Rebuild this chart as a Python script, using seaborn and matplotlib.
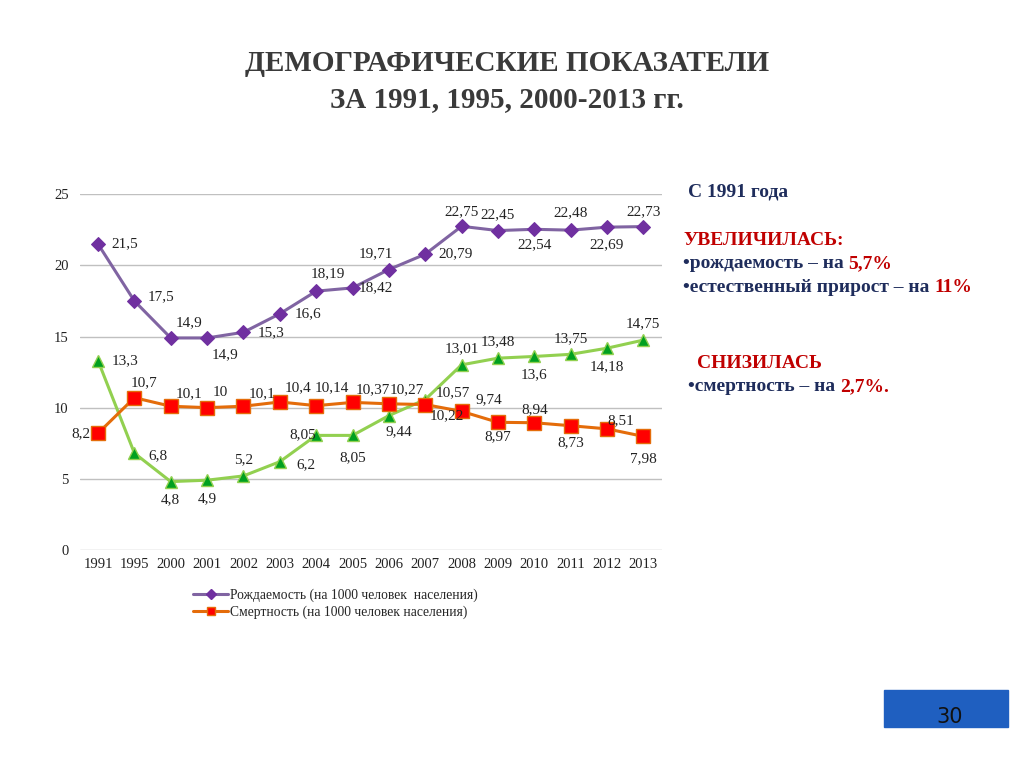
import matplotlib
matplotlib.use("Agg")
import matplotlib.pyplot as plt
import seaborn as sns
from matplotlib.lines import Line2D
from matplotlib.patches import Rectangle

# ── Data ──────────────────────────────────────────────────────────────────────
years = ["1991", "1995", "2000", "2001", "2002", "2003", "2004", "2005",
         "2006", "2007", "2008", "2009", "2010", "2011", "2012", "2013"]
birth = [21.5, 17.5, 14.9, 14.9, 15.3, 16.6, 18.19, 18.42,
         19.71, 20.79, 22.75, 22.45, 22.54, 22.48, 22.69, 22.73]
death = [8.2, 10.7, 10.1, 10.0, 10.1, 10.4, 10.14, 10.37,
         10.27, 10.22, 9.74, 8.97, 8.94, 8.73, 8.51, 7.98]
third = [13.3, 6.8, 4.8, 4.9, 5.2, 6.2, 8.05, 8.05,
         9.44, 10.57, 13.01, 13.48, 13.6, 13.75, 14.18, 14.75]
yticks = [0, 5, 10, 15, 20, 25]

# label offsets (pixels) – mimic Excel label placement
off_birth = [(27, 0), (27, 4), (18, 15), (18, -17), (28, 0), (28, 0), (12, 17), (23, 0),
             (-13, 16), (30, 0), (0, 15), (0, 16), (0, -15), (0, 17), (0, -18), (0, 15)]
off_death = [(-17, 0), (10, 15), (18, 13), (13, 15), (19, 13), (18, 14), (16, 18), (20, 13),
             (18, 14), (22, -11), (27, 12), (0, -14), (0, 13), (0, -17), (14, 8), (0, -22)]
off_third = [(27, 0), (24, -3), (0, -18), (0, -18), (0, 16), (26, -3), (-13, 1), (0, -22),
             (10, -16), (28, 7), (0, 16), (0, 16), (0, -18), (0, 16), (0, -18), (0, 16)]

PURPLE_L, PURPLE_M = "#8064a2", "#7030a0"
ORANGE_L, RED_M = "#e46c0a", "#ff0000"
GREEN_L, GREEN_M = "#92d050", "#00a020"
NAVY, DRED = "#1f2d5c", "#c00000"

sns.set_theme(style="white")
plt.rcParams["font.family"] = ["Liberation Serif", "DejaVu Serif"]

fig = plt.figure(figsize=(10.24, 7.68), dpi=100)
ax = fig.add_axes([0.078, 0.284, 0.568, 0.463])

x = list(range(len(years)))
sns.lineplot(x=x, y=third, ax=ax, color=GREEN_L, lw=2.2, marker="^", markersize=8.5,
             markerfacecolor=GREEN_M, markeredgecolor=GREEN_L, markeredgewidth=1)
sns.lineplot(x=x, y=death, ax=ax, color=ORANGE_L, lw=2.2, marker="s", markersize=9.5,
             markerfacecolor=RED_M, markeredgecolor=ORANGE_L, markeredgewidth=1)
sns.lineplot(x=x, y=birth, ax=ax, color=PURPLE_L, lw=2.2, marker="D", markersize=7,
             markerfacecolor=PURPLE_M, markeredgecolor=PURPLE_M)

for vals, offs in [(birth, off_birth), (death, off_death), (third, off_third)]:
    for i, (v, o) in enumerate(zip(vals, offs)):
        ax.annotate(f"{v:g}".replace(".", ","), (i, v), xytext=o,
                    textcoords="offset pixels", ha="center", va="center",
                    fontsize=11, color="#222222")

ax.set_xlim(-0.5, len(years) - 0.5)
ax.set_ylim(0, 25)
ax.set_yticks(yticks)
ax.set_xticks(x)
ax.set_xticklabels(years)
ax.tick_params(axis="both", labelsize=10.5, length=0, colors="#222222")
ax.tick_params(axis="y", pad=8)
ax.tick_params(axis="x", pad=6)
ax.yaxis.grid(True, color="#c0c0c0", lw=1)
for s in ax.spines.values():
    s.set_visible(False)

handles = [
    Line2D([], [], color=PURPLE_L, lw=2.2, marker="D", markersize=5,
           markerfacecolor=PURPLE_M, markeredgecolor=PURPLE_M),
    Line2D([], [], color=ORANGE_L, lw=2.2, marker="s", markersize=6,
           markerfacecolor=RED_M, markeredgecolor=ORANGE_L),
]
labels = ["Рождаемость (на 1000 человек  населения)",
          "Смертность (на 1000 человек населения)"]
fig.legend(handles, labels, loc="upper left", bbox_to_anchor=(0.183, 0.241),
           frameon=False, fontsize=9.8, handlelength=2.6, handletextpad=0.1,
           labelspacing=0.3, borderaxespad=0)

# Title
fig.text(0.495, 0.917, "ДЕМОГРАФИЧЕСКИЕ ПОКАЗАТЕЛИ", ha="center", va="center",
         fontsize=21, fontweight="bold", color="#3a3a3a")
fig.text(0.495, 0.871, "ЗА 1991, 1995, 2000-2013 гг.", ha="center", va="center",
         fontsize=21, fontweight="bold", color="#3a3a3a")

# Right-hand notes
fs = 14


def two_tone(x0, y, first, second):
    t = fig.text(x0, y, first, fontsize=fs, fontweight="bold", color=NAVY, va="center")
    fig.canvas.draw()
    bb = t.get_window_extent().transformed(fig.transFigure.inverted())
    fig.text(bb.x1, y, second, fontsize=fs, fontweight="bold", color=DRED, va="center")


fig.text(0.672, 0.750, "С 1991 года", fontsize=fs, fontweight="bold", color=NAVY, va="center")
fig.text(0.667, 0.687, "УВЕЛИЧИЛАСЬ:", fontsize=fs, fontweight="bold", color=DRED, va="center")
two_tone(0.667, 0.657, "•рождаемость – на ", "5,7%")
two_tone(0.667, 0.626, "•естественный прирост – на ", "11%")
fig.text(0.681, 0.527, "СНИЗИЛАСЬ", fontsize=fs, fontweight="bold", color=DRED, va="center")
two_tone(0.672, 0.497, "•смертность – на ", "2,7%.")

# Slide number box
fig.patches.append(Rectangle((884 / 1024, 1 - 727 / 768), 124 / 1024, 37 / 768,
                             transform=fig.transFigure, color="#1f5fc0", zorder=0))
fig.text(950 / 1024, 1 - 717 / 768, "30", ha="center", va="center", fontsize=15,
         color="#111111", family="DejaVu Sans")

fig.savefig("out.png", dpi=100, facecolor="white")
